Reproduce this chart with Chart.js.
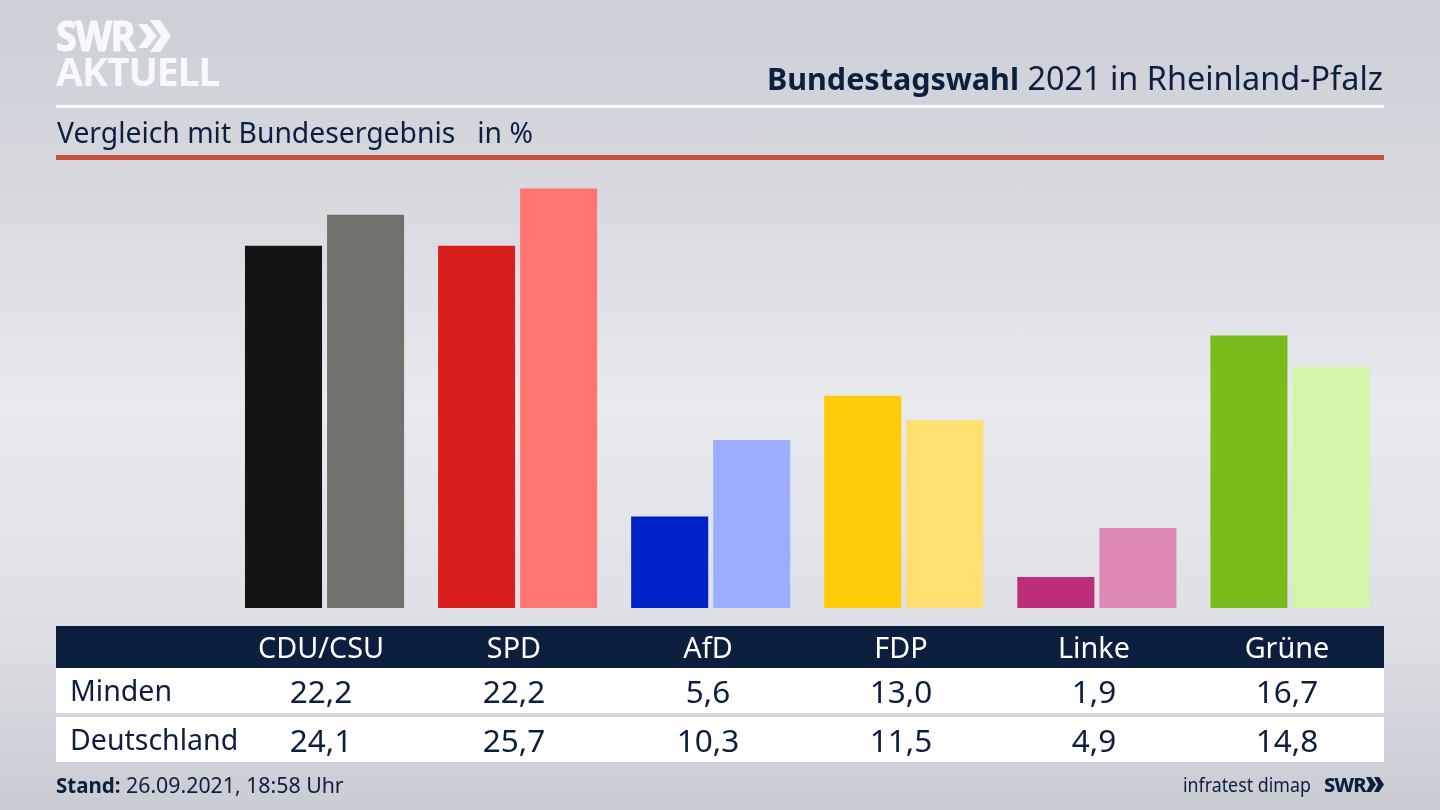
<!DOCTYPE html>
<html>
<head>
<meta charset="utf-8">
<title>Bundestagswahl 2021 in Rheinland-Pfalz</title>
<script src="https://cdn.jsdelivr.net/npm/chart.js"></script>
<style>
    html, body { margin: 0; padding: 0; }
    body {
        width: 1440px; height: 810px; overflow: hidden; position: relative;
        font-family: "Noto Sans", sans-serif; color: #0c1f3f;
        background: linear-gradient(180deg, #cccfd6 0%, #d6d8de 22%, #e9eaee 50%, #dfe1e6 75%, #c9ccd3 100%);
    }
    .abs { position: absolute; white-space: nowrap; }
    #chart { position: absolute; left: 0; top: 0; }
    .logo { font-weight: 700; color: #f7f8f9; font-size: 39px; line-height: 39px; letter-spacing: -1px; }
    .title { right: 57px; top: 57px; font-size: 32.4px; line-height: 40px; }
    .title b { font-size: 30.5px; }
    .subtitle { left: 57px; top: 113px; font-size: 28.3px; line-height: 38px; white-space: pre; }
    .rule { position: absolute; left: 56px; width: 1328px; }
    .band { position: absolute; left: 56px; width: 1328px; }
    .cell { position: absolute; transform: translateX(-50%); white-space: nowrap; font-size: 28.8px; line-height: 44px; }
    .num { font-size: 31.5px; }
    .rowname { position: absolute; left: 70px; font-size: 28.5px; line-height: 44px; white-space: nowrap; }
    .foot { top: 771px; font-size: 21.3px; line-height: 28px; }
</style>
</head>
<body>
<canvas id="chart" width="1440" height="810"></canvas>

<div class="abs logo" style="left:56px;top:14px;font-size:42px;line-height:42px;letter-spacing:-1.5px;transform:scaleX(.9);transform-origin:left;-webkit-text-stroke:1.2px #f7f8f9">SWR</div>
<svg class="abs" style="left:138px;top:20px" width="33" height="32"><path d="M0 4h9l10 12-10 12H0l9-12zM12 0h10l11 16-11 16H12l11-16z" fill="#f7f8f9"/></svg>
<div class="abs logo" style="left:56px;top:51px">AKTUELL</div>

<div class="abs title"><b>Bundestagswahl</b> 2021 in Rheinland-Pfalz</div>
<div class="rule" style="top:105px;height:3px;background:#fff"></div>
<div class="abs subtitle">Vergleich mit Bundesergebnis   in %</div>
<div class="rule" style="top:155px;height:5px;background:#c8503c"></div>

<div class="band" style="top:626px;height:42px;background:#0c1f3f"></div>
<div class="band" style="top:668px;height:45px;background:#fff"></div>
<div class="band" style="top:717px;height:45px;background:#fff"></div>
<div id="table"></div>

<div class="abs foot" style="left:56px"><b style="font-size:20.5px">Stand:</b> 26.09.2021, 18:58 Uhr</div>
<div class="abs foot" style="left:1183px;font-size:20px;transform:scaleX(.89);transform-origin:left">infratest dimap</div>
<div class="abs foot" style="left:1324px;font-size:20px;font-weight:800;letter-spacing:-1px">SWR</div>
<svg class="abs" style="left:1366px;top:777px" width="18" height="15"><path d="M0 0h5l5 7.5-5 7.5H0l4-7.5zM8 0h5l5 7.5-5 7.5H8l4-7.5z" fill="#0c1f3f"/></svg>

<script>
    const parties = ['CDU/CSU', 'SPD', 'AfD', 'FDP', 'Linke', 'Grüne'];
    const minden = [22.2, 22.2, 5.6, 13.0, 1.9, 16.7];
    const deutschland = [24.1, 25.7, 10.3, 11.5, 4.9, 14.8];
    const mindenColors = ['#141414', '#d81f1c', '#0020c8', '#ffcc0a', '#bc2e78', '#78bd1c'];
    const deutschlandColors = ['#72716e', '#ff7570', '#9dadff', '#ffdf70', '#de88b6', '#d4f6a8'];

    // Table columns, centred under each party
    const columnX = [321, 514, 708, 901, 1094, 1287];

    const fmt = v => v.toFixed(1).replace('.', ',');
    const table = document.getElementById('table');

    function addCell(text, x, top, color, cls) {
        const el = document.createElement('div');
        el.className = cls;
        el.style.left = x + 'px';
        el.style.top = top + 'px';
        el.style.color = color;
        el.textContent = text;
        table.appendChild(el);
    }

    function addRowName(text, top) {
        const el = document.createElement('div');
        el.className = 'rowname';
        el.style.top = top + 'px';
        el.textContent = text;
        table.appendChild(el);
    }

    parties.forEach((p, i) => {
        addCell(p, columnX[i], 625, '#ffffff', 'cell');
        addCell(fmt(minden[i]), columnX[i], 669, '#0c1f3f', 'cell num');
        addCell(fmt(deutschland[i]), columnX[i], 718, '#0c1f3f', 'cell num');
    });
    addRowName('Minden', 668);
    addRowName('Deutschland', 717);

    new Chart(document.getElementById('chart').getContext('2d'), {
        type: 'bar',
        data: {
            labels: parties,
            datasets: [
                { label: 'Minden', data: minden, backgroundColor: mindenColors },
                { label: 'Deutschland', data: deutschland, backgroundColor: deutschlandColors }
            ]
        },
        options: {
            responsive: false,
            animation: false,
            devicePixelRatio: 1,
            layout: { padding: { left: 228, right: 53.5, top: 166.55, bottom: 202 } },
            categoryPercentage: 0.85,
            barPercentage: 0.939,
            plugins: { legend: { display: false }, tooltip: { enabled: false } },
            scales: {
                x: { display: false },
                y: { display: false, min: 0, max: 27.05 }
            }
        }
    });
</script>
</body>
</html>
